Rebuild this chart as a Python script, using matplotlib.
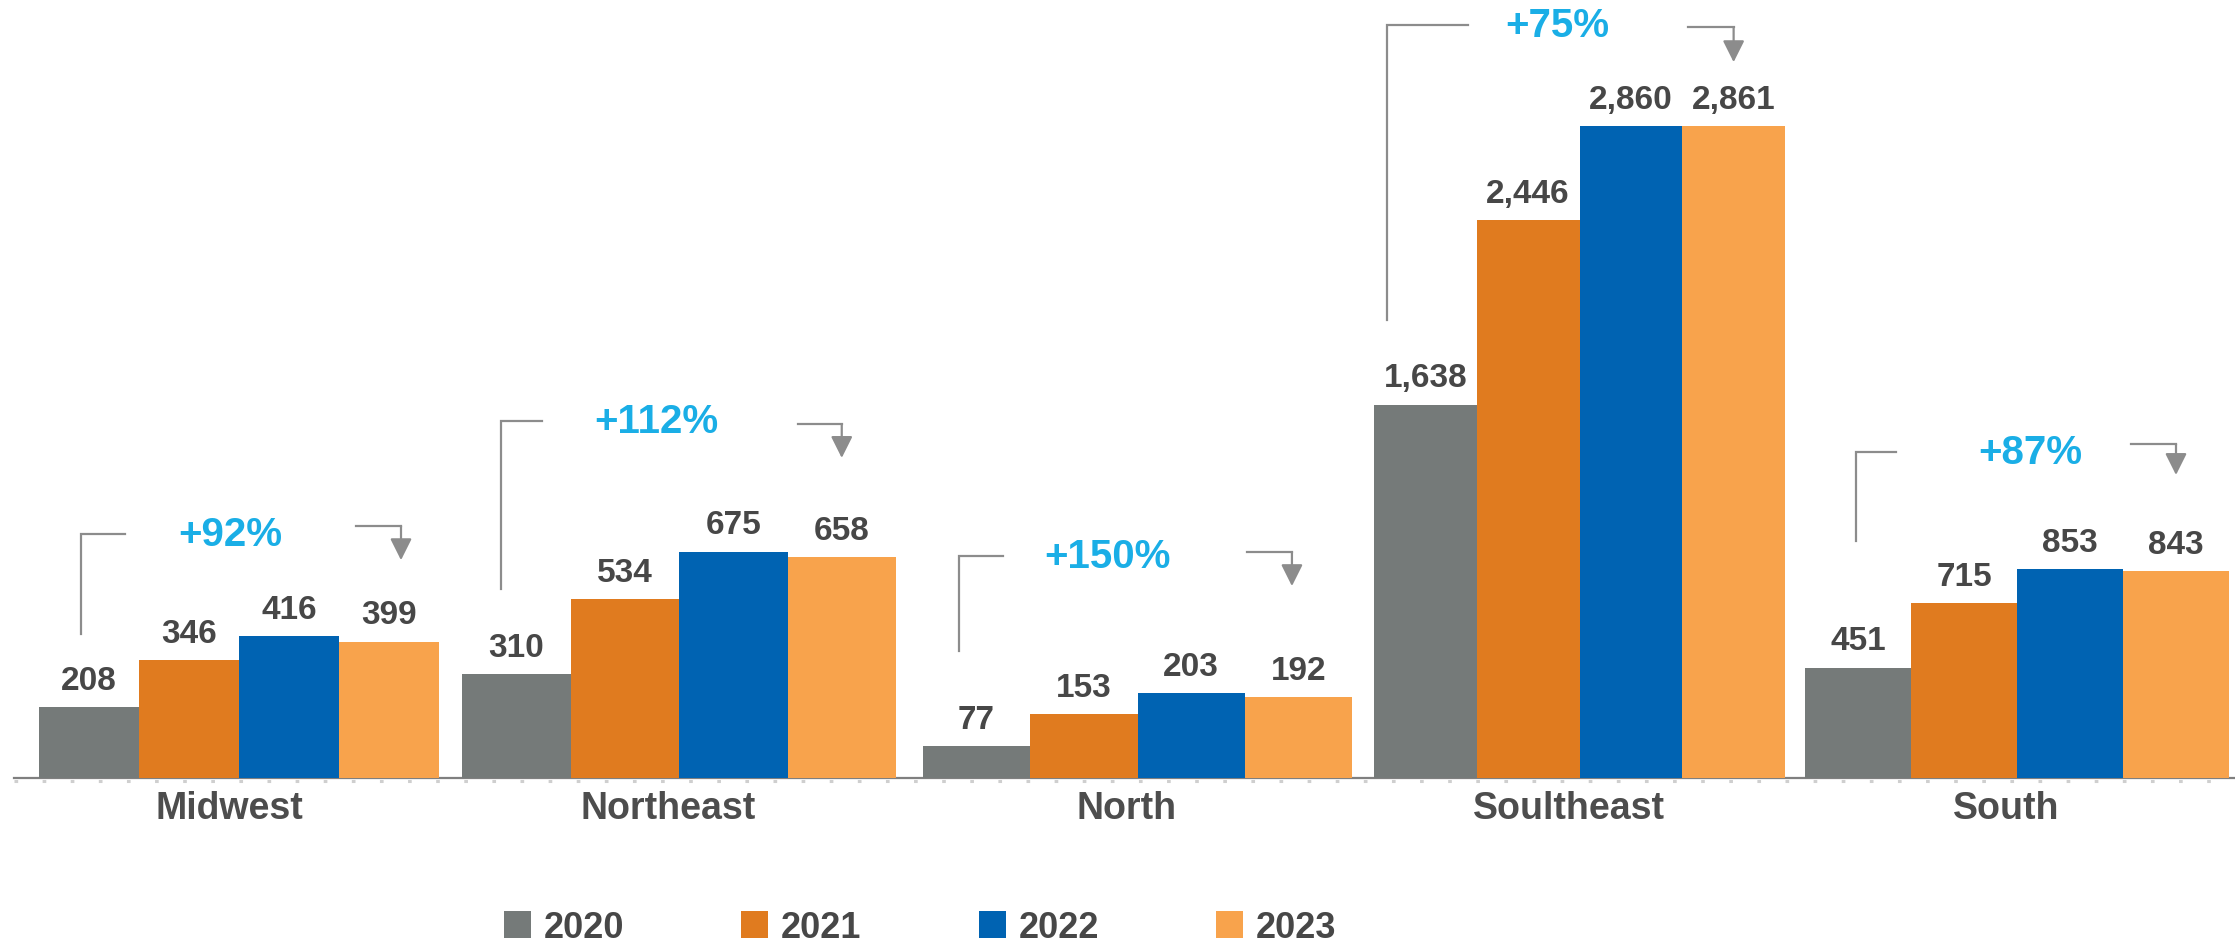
import matplotlib
matplotlib.use("Agg")
import matplotlib.pyplot as plt
from matplotlib.lines import Line2D
import numpy as np

# ---- data ----
regions = ["Midwest", "Northeast", "North", "Soultheast", "South"]
years = ["2020", "2021", "2022", "2023"]
v2020 = [208, 310, 77, 1638, 451]
v2021 = [346, 534, 153, 2446, 715]
v2022 = [416, 675, 203, 2860, 853]
v2023 = [399, 658, 192, 2861, 843]
growth_labels = ["+92%", "+112%", "+150%", "+75%", "+87%"]

# ---- layout: each region is its own small chart with its own scale ----
W, H = 2235, 945
base_px = 779                       # baseline, px from top
panel_left_px = [39, 462, 923, 1374, 1805]
panel_right_px = [439, 896, 1352, 1785, 2229]
panel_ymax = [2278, 2322, 1855, 3417, 3180]

# bracket annotation placement (panel data units; bar i centred at i)
br_left_x = [-0.08, -0.14, -0.16, -0.37, -0.02]
br_left_end = [0.36, 0.24, 0.25, 0.41, 0.36]
br_text_x = [1.41, 1.29, 1.22, 1.28, 1.63]
br_right_start = [2.67, 2.60, 2.52, 2.56, 2.58]
br_arrow_x = [3.12, 3.0, 2.94, 3.0, 3.0]
br_top = [713, 1064, 529, 3304, 1331]
br_right_y = [737, 1055, 538, 3292, 1363]
br_left_bottom = [421, 563, 302, 2009, 967]
br_arrow_tip = [637, 954, 457, 3140, 1237]

colors = ["#757A79", "#E07B1F", "#0063B2", "#F8A34C"]
txt_col = "#474747"
pct_col = "#1AAEE6"
line_col = "#8C8C8C"

plt.rcParams["font.family"] = ["Liberation Sans", "DejaVu Sans"]

fig = plt.figure(figsize=(W / 100, H / 100), dpi=100)
base_frac = (H - base_px) / H

# continuous baseline across the whole figure (solid line + faint tick marks below)
tick_frac = (H - base_px - 2.5) / H
fig.add_artist(Line2D([14 / W, 1.0], [tick_frac, tick_frac], transform=fig.transFigure,
                      color="#CFCFCF", lw=2.2, ls=(0, (1.2, 8)), zorder=0))
fig.add_artist(Line2D([14 / W, 1.0], [base_frac, base_frac], transform=fig.transFigure,
                      color="#7F7F7F", lw=1.6, zorder=0))

series = [v2020, v2021, v2022, v2023]
legend_handles = None
for g, name in enumerate(regions):
    l = panel_left_px[g] / W
    wdt = (panel_right_px[g] - panel_left_px[g]) / W
    ax = fig.add_axes([l, base_frac, wdt, 1 - base_frac])
    ax.patch.set_alpha(0)
    vals = [s[g] for s in series]
    pos = np.arange(len(years))
    bc = ax.bar(pos, vals, width=1.0, color=colors, linewidth=0, zorder=3)
    if legend_handles is None:
        legend_handles = list(bc.patches)
    for xp, v in zip(pos, vals):
        ax.annotate(f"{v:,}", (xp, v), xytext=(0, 8), textcoords="offset points",
                    ha="center", va="bottom", fontsize=24, fontweight="bold",
                    color=txt_col, zorder=5)
    ax.set_xlim(-0.5, 3.5)
    ax.set_ylim(0, panel_ymax[g])

    # bracket
    lx = br_left_x[g]
    ty = br_top[g]
    ax.plot([lx, lx, br_left_end[g]], [br_left_bottom[g], ty, ty], color=line_col,
            lw=1.6, clip_on=False, zorder=4, solid_joinstyle="miter")
    ax.plot([br_right_start[g], br_arrow_x[g]], [br_right_y[g], br_right_y[g]],
            color=line_col, lw=1.6, clip_on=False, zorder=4)
    ax.annotate("", xy=(br_arrow_x[g], br_arrow_tip[g]),
                xytext=(br_arrow_x[g], br_right_y[g]),
                arrowprops=dict(arrowstyle="-|>,head_length=0.6,head_width=0.3",
                                color=line_col, lw=1.6, shrinkA=0, shrinkB=0,
                                mutation_scale=22),
                zorder=4, annotation_clip=False)
    ax.text(br_text_x[g], ty, growth_labels[g], ha="center", va="center",
            fontsize=29, fontweight="bold", color=pct_col, zorder=5)

    ax.set_xticks([1.4])
    ax.set_xticklabels([name], fontsize=27, fontweight="bold", color="#4D4D4D")
    ax.tick_params(axis="x", length=0, pad=9)
    ax.set_yticks([])
    for s in ax.spines.values():
        s.set_visible(False)

leg = fig.legend(handles=legend_handles, labels=years, loc="center",
                 bbox_to_anchor=(0.4116, 0.0175), ncol=4, frameon=False,
                 prop={"size": 26, "weight": "bold"}, handlelength=0.75,
                 handleheight=0.78, handletextpad=0.35, columnspacing=3.25,
                 borderpad=0, borderaxespad=0)
for t in leg.get_texts():
    t.set_color(txt_col)

fig.savefig("out.png", dpi=100)
